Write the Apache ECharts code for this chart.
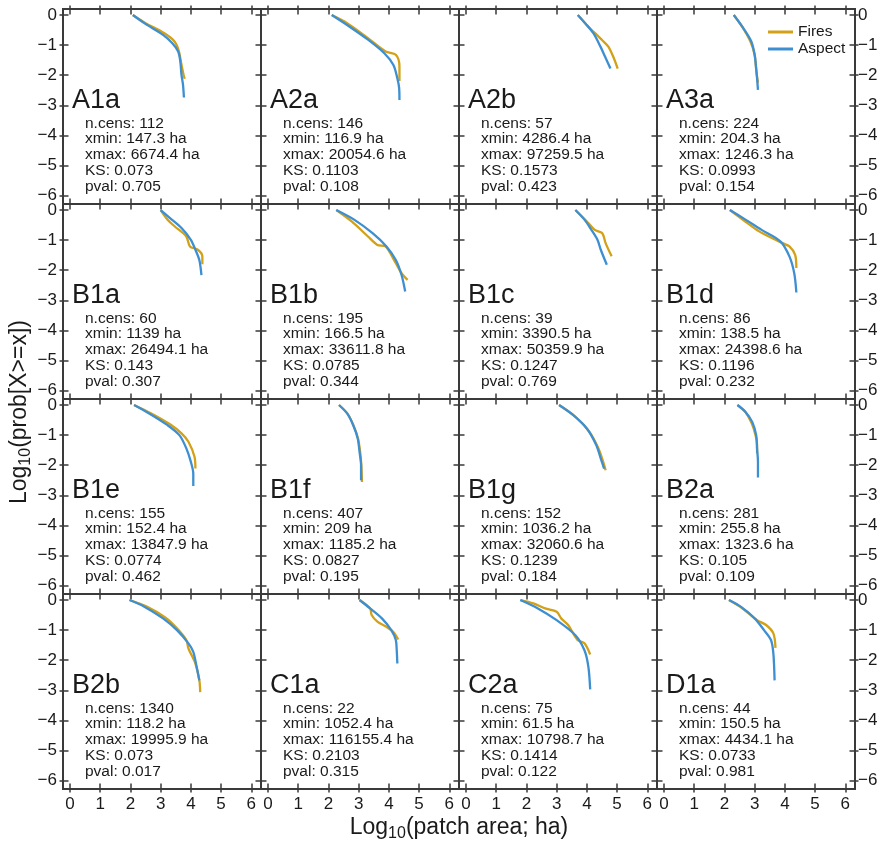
<!DOCTYPE html>
<html>
<head>
<meta charset="utf-8">
<script src="https://cdn.jsdelivr.net/npm/echarts@6/dist/echarts.min.js"></script>
<style>
html, body { margin: 0; padding: 0; background: #fff; }
#chart { width: 884px; height: 845px; }
</style>
</head>
<body>
<div id="chart"></div>
<script>
// ---- panel names and fit statistics ----
const panels = ['A1a','A2a','A2b','A3a','B1a','B1b','B1c','B1d','B1e','B1f','B1g','B2a','B2b','C1a','C2a','D1a'];
const nCens  = ['112','146','57','224','60','195','39','86','155','407','152','281','1340','22','75','44'];
const xminHa = ['147.3','116.9','4286.4','204.3','1139','166.5','3390.5','138.5','152.4','209','1036.2','255.8','118.2','1052.4','61.5','150.5'];
const xmaxHa = ['6674.4','20054.6','97259.5','1246.3','26494.1','33611.8','50359.9','24398.6','13847.9','1185.2','32060.6','1323.6','19995.9','116155.4','10798.7','4434.1'];
const ksStat = ['0.073','0.1103','0.1573','0.0993','0.143','0.0785','0.1247','0.1196','0.0774','0.0827','0.1239','0.105','0.073','0.2103','0.1414','0.0733'];
const pVal   = ['0.705','0.108','0.423','0.154','0.307','0.344','0.769','0.232','0.462','0.195','0.184','0.109','0.017','0.315','0.122','0.981'];

// ---- axis ticks ----
const xTicks = [0, 1, 2, 3, 4, 5, 6];
const yTicks = [0, -1, -2, -3, -4, -5, -6];

// ---- CCDF curves: [log10 area, log10 P(X>=x)] ----
const fires_A1a  = [[2.08,0],[2.5,-0.27],[3.11,-0.6],[3.46,-0.88],[3.6,-1.19],[3.68,-1.6],[3.77,-2.04],[3.8,-2.12]];
const aspect_A1a = [[2.08,0],[2.46,-0.27],[3.08,-0.66],[3.38,-0.93],[3.58,-1.21],[3.65,-1.54],[3.69,-1.99],[3.74,-2.32],[3.77,-2.74]];
const fires_A2a  = [[2.11,0],[2.62,-0.27],[3.31,-0.77],[3.89,-1.21],[4.23,-1.32],[4.35,-1.71],[4.35,-2.19]];
const aspect_A2a = [[2.11,0],[2.69,-0.38],[3.31,-0.82],[3.85,-1.27],[4.15,-1.66],[4.28,-2.1],[4.34,-2.43],[4.35,-2.82]];
const fires_A2b  = [[3.7,0],[4.17,-0.52],[4.27,-0.6],[4.5,-0.83],[4.71,-1.05],[4.87,-1.38],[5.02,-1.78]];
const aspect_A2b = [[3.7,0],[3.95,-0.28],[4.22,-0.61],[4.45,-1.05],[4.6,-1.38],[4.78,-1.78]];
const fires_A3a  = [[2.31,0],[2.58,-0.38],[2.86,-0.88],[3.0,-1.32],[3.06,-1.9],[3.11,-2.25]];
const aspect_A3a = [[2.31,0],[2.62,-0.43],[2.89,-0.88],[3.0,-1.32],[3.05,-1.77],[3.08,-2.1],[3.11,-2.49]];
const fires_B1a  = [[3.0,0],[3.23,-0.32],[3.46,-0.54],[3.85,-0.88],[3.97,-1.21],[4.23,-1.32],[4.38,-1.54],[4.38,-1.8]];
const aspect_B1a = [[3.0,0],[3.31,-0.27],[3.69,-0.6],[4.0,-0.99],[4.15,-1.32],[4.28,-1.66],[4.35,-2.16]];
const fires_B1b  = [[2.26,0],[2.77,-0.38],[3.31,-0.88],[3.62,-1.16],[3.89,-1.21],[4.23,-1.77],[4.42,-2.1],[4.62,-2.32]];
const aspect_B1b = [[2.26,0],[2.85,-0.32],[3.46,-0.77],[3.92,-1.21],[4.23,-1.66],[4.42,-2.16],[4.54,-2.71]];
const fires_B1c  = [[3.62,0],[4.0,-0.38],[4.26,-0.66],[4.51,-0.77],[4.62,-1.1],[4.82,-1.54]];
const aspect_B1c = [[3.62,0],[3.92,-0.32],[4.15,-0.66],[4.35,-0.99],[4.46,-1.32],[4.66,-1.82]];
const fires_B1d  = [[2.18,0],[2.69,-0.38],[3.15,-0.71],[3.69,-0.99],[3.92,-1.1],[4.15,-1.21],[4.34,-1.49],[4.38,-1.93]];
const aspect_B1d = [[2.18,0],[2.62,-0.27],[3.23,-0.66],[3.85,-1.04],[4.15,-1.54],[4.31,-2.1],[4.38,-2.74]];
const fires_B1e  = [[2.12,0],[2.69,-0.28],[3.31,-0.64],[3.69,-0.94],[3.92,-1.22],[4.12,-1.72],[4.15,-2.11]];
const aspect_B1e = [[2.12,0],[2.62,-0.28],[3.23,-0.67],[3.62,-1.0],[3.85,-1.44],[4.0,-1.89],[4.08,-2.28],[4.08,-2.69]];
const fires_B1f  = [[2.35,0],[2.64,-0.3],[2.84,-0.7],[2.98,-1.11],[3.05,-1.56],[3.09,-2.0],[3.11,-2.56]];
const aspect_B1f = [[2.35,0],[2.62,-0.28],[2.82,-0.67],[2.97,-1.11],[3.03,-1.56],[3.08,-2.0],[3.08,-2.5]];
const fires_B1g  = [[3.08,0],[3.62,-0.39],[4.08,-0.89],[4.38,-1.44],[4.54,-1.89],[4.62,-2.17]];
const aspect_B1g = [[3.08,0],[3.54,-0.33],[4.0,-0.78],[4.31,-1.33],[4.46,-1.78],[4.57,-2.11]];
const fires_B2a  = [[2.43,0],[2.7,-0.24],[2.9,-0.6],[3.03,-1.0],[3.08,-1.3],[3.08,-1.61]];
const aspect_B2a = [[2.43,0],[2.69,-0.22],[2.92,-0.56],[3.05,-1.0],[3.08,-1.44],[3.11,-1.89],[3.11,-2.41]];
const fires_B2b  = [[1.97,0],[2.54,-0.22],[3.15,-0.58],[3.54,-0.94],[3.85,-1.33],[3.92,-1.61],[4.15,-2.11],[4.28,-2.67],[4.31,-3.06]];
const aspect_B2b = [[1.97,0],[2.46,-0.22],[3.08,-0.61],[3.54,-1.0],[3.92,-1.44],[4.08,-1.72],[4.18,-2.17],[4.28,-2.67]];
const fires_C1a  = [[3.03,0],[3.38,-0.28],[3.43,-0.5],[3.62,-0.72],[3.92,-0.89],[4.15,-1.06],[4.31,-1.31]];
const aspect_C1a = [[3.03,0],[3.38,-0.28],[3.77,-0.61],[4.08,-1.0],[4.23,-1.33],[4.26,-1.67],[4.28,-2.11]];
const fires_C2a  = [[1.8,0],[2.23,-0.11],[2.62,-0.28],[3.0,-0.39],[3.15,-0.61],[3.38,-0.83],[3.69,-1.33],[3.92,-1.44],[4.11,-1.81]];
const aspect_C2a = [[1.8,0],[2.38,-0.28],[3.0,-0.67],[3.62,-1.17],[3.92,-1.67],[4.05,-2.22],[4.11,-2.97]];
const fires_D1a  = [[2.15,0],[2.6,-0.28],[3.08,-0.67],[3.38,-0.83],[3.62,-1.11],[3.69,-1.59]];
const aspect_D1a = [[2.15,0],[2.54,-0.22],[3.0,-0.61],[3.31,-1.0],[3.54,-1.33],[3.62,-1.78],[3.66,-2.67]];

const firesCurves = [fires_A1a, fires_A2a, fires_A2b, fires_A3a, fires_B1a, fires_B1b, fires_B1c, fires_B1d,
                     fires_B1e, fires_B1f, fires_B1g, fires_B2a, fires_B2b, fires_C1a, fires_C2a, fires_D1a];
const aspectCurves = [aspect_A1a, aspect_A2a, aspect_A2b, aspect_A3a, aspect_B1a, aspect_B1b, aspect_B1c, aspect_B1d,
                      aspect_B1e, aspect_B1f, aspect_B1g, aspect_B2a, aspect_B2b, aspect_C1a, aspect_C2a, aspect_D1a];

// ---- styling / layout ----
const FONT = "'Liberation Sans', Arial, Helvetica, sans-serif";
const INK = '#1a1a1a';
const FRAME = '#3a3a3a';
const FIRE_COLOR = '#d2a118';
const ASPECT_COLOR = '#3d8fd1';

const COL_LEFT = [63, 261, 459, 657];
const ROW_TOP = [9, 204, 399, 594];
const CELL_W = 198, CELL_H = 195;
const X_MIN = -0.23, X_MAX = 6.32;
const Y_MIN = -6.28, Y_MAX = 0.2;
const TICK_IN = 5.5, TICK_OUT = 3.5;

const minus = v => (v < 0 ? '\u2212' + Math.abs(v) : String(v));

function makeAxis(kind, gridIndex, position, inside, showLabel, labelMargin) {
  const isX = kind === 'x';
  const ticks = isX ? xTicks : yTicks;
  return {
    type: 'value',
    gridIndex,
    position,
    min: isX ? X_MIN : Y_MIN,
    max: isX ? X_MAX : Y_MAX,
    splitLine: { show: false },
    axisLine: { show: true, onZero: false, lineStyle: { color: FRAME, width: 2 } },
    axisTick: {
      show: true, inside, length: inside ? TICK_IN : TICK_OUT,
      customValues: ticks,
      lineStyle: { color: FRAME, width: 1.5 }
    },
    axisLabel: {
      show: showLabel,
      customValues: ticks,
      formatter: minus,
      margin: labelMargin || 6,
      fontSize: 17,
      fontFamily: FONT,
      color: INK
    },
    axisPointer: { show: false }
  };
}

const grids = [], xAxes = [], yAxes = [], series = [], graphics = [];

function curveSeries(name, color, data, i, z) {
  return {
    type: 'line', name,
    xAxisIndex: i * 4, yAxisIndex: i * 4,
    data,
    showSymbol: false, symbol: 'none',
    smooth: 0.3,
    lineStyle: { color, width: 2.3 },
    itemStyle: { color },
    silent: true, z
  };
}

panels.forEach((name, i) => {
  const r = Math.floor(i / 4), c = i % 4;
  const left = COL_LEFT[c], top = ROW_TOP[r];
  grids.push({ left, top, width: CELL_W, height: CELL_H });

  // x axes: bottom in/out, top in/out ; the first one carries the data
  xAxes.push(makeAxis('x', i, 'bottom', true, false));
  xAxes.push(makeAxis('x', i, 'bottom', false, r === 3, 7));
  xAxes.push(makeAxis('x', i, 'top', true, false));
  xAxes.push(makeAxis('x', i, 'top', false, false));
  // y axes: left in/out, right in/out
  yAxes.push(makeAxis('y', i, 'left', true, false));
  yAxes.push(makeAxis('y', i, 'left', false, c === 0, 6));
  yAxes.push(makeAxis('y', i, 'right', true, false));
  yAxes.push(makeAxis('y', i, 'right', false, c === 3, 3));

  series.push(curveSeries('Fires', FIRE_COLOR, firesCurves[i], i, 2));
  series.push(curveSeries('Aspect', ASPECT_COLOR, aspectCurves[i], i, 3));

  // panel tag
  graphics.push({
    type: 'text', x: left + 9, y: top + 92, silent: true,
    style: { text: name, fontSize: 27, fontFamily: FONT, fill: INK, align: 'left', verticalAlign: 'middle' }
  });
  // fit statistics
  graphics.push({
    type: 'text', x: left + 22, y: top + 106.4, silent: true,
    style: {
      text: [
        'n.cens: ' + nCens[i],
        'xmin: ' + xminHa[i] + ' ha',
        'xmax: ' + xmaxHa[i] + ' ha',
        'KS: ' + ksStat[i],
        'pval: ' + pVal[i]
      ].join('\n'),
      fontSize: 15.5, lineHeight: 15.85, fontFamily: FONT, fill: INK,
      align: 'left', verticalAlign: 'top'
    }
  });
});

// axis titles with subscripted base
const titleRich = {
  m: { fontSize: 23, fontFamily: FONT, fill: INK, lineHeight: 28 },
  s: { fontSize: 16, fontFamily: FONT, fill: INK, lineHeight: 15, verticalAlign: 'bottom' }
};
graphics.push({
  type: 'text', x: 459, y: 828, silent: true,
  style: { text: '{m|Log}{s|10}{m|(patch area; ha)}', rich: titleRich, align: 'center', verticalAlign: 'middle' }
});
graphics.push({
  type: 'text', x: 20, y: 412, rotation: Math.PI / 2, silent: true,
  style: { text: '{m|Log}{s|10}{m|(prob[X>=x])}', rich: titleRich, align: 'center', verticalAlign: 'middle' }
});

const chart = echarts.init(document.getElementById('chart'), null, { renderer: 'canvas' });
chart.setOption({
  animation: false,
  backgroundColor: '#ffffff',
  textStyle: { fontFamily: FONT },
  grid: grids,
  xAxis: xAxes,
  yAxis: yAxes,
  legend: {
    data: ['Fires', 'Aspect'],
    orient: 'vertical',
    left: 768, top: 24,
    padding: 0,
    itemWidth: 25, itemHeight: 3, itemGap: 1,
    icon: 'rect',
    selectedMode: false,
    textStyle: { fontSize: 15.5, fontFamily: FONT, color: INK, lineHeight: 16 }
  },
  series,
  graphic: graphics
});
</script>
</body>
</html>
